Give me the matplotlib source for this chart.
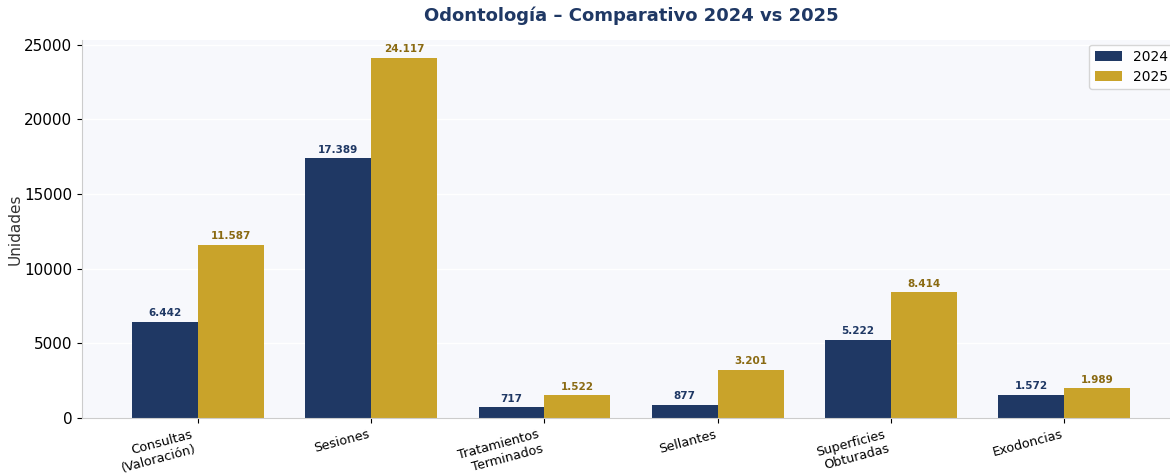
import matplotlib.pyplot as plt
import numpy as np

categorias = ['Consultas\n(Valoración)', 'Sesiones', 'Tratamientos\nTerminados',
              'Sellantes', 'Superficies\nObturadas', 'Exodoncias']
valores_2024 = [6442, 17389, 717, 877, 5222, 1572]
valores_2025 = [11587, 24117, 1522, 3201, 8414, 1989]

azul = '#1f3864'
dorado = '#c9a32a'

fig = plt.figure(figsize=(11.7, 4.75), dpi=100)
ax = fig.add_axes([82 / 1170, 57 / 475, 1098 / 1170, 378 / 475])
ax.set_facecolor('#f7f8fc')

x = np.arange(len(categorias))
w = 0.38
b1 = ax.bar(x - w / 2, valores_2024, w, color=azul, label='2024')
b2 = ax.bar(x + w / 2, valores_2025, w, color=dorado, label='2025')

def fmt(v):
    return f'{v:,}'.replace(',', '.')

for barras, col in [(b1, azul), (b2, '#8a6a12')]:
    for r in barras:
        h = r.get_height()
        ax.text(r.get_x() + r.get_width() / 2, h + 250, fmt(int(h)),
                ha='center', va='bottom', fontsize=7.5, fontweight='bold', color=col)

ax.set_ylim(0, max(valores_2025) * 1.05)
ax.set_xticks(x)
ax.set_xticklabels(categorias, rotation=15, ha='right', fontsize=9.2)
ax.tick_params(axis='y', labelsize=11)
ax.set_ylabel('Unidades', fontsize=11, color='#333333', labelpad=1)
ax.yaxis.grid(True, color='white', linewidth=1)
ax.set_axisbelow(True)
for s in ['top', 'right']:
    ax.spines[s].set_visible(False)
for s in ['left', 'bottom']:
    ax.spines[s].set_color('#cccccc')

ax.legend(loc='upper right', fontsize=10, bbox_to_anchor=(0.9945, 0.988),
          borderaxespad=0, handlelength=2.0, labelspacing=0.4)
ax.set_title('Odontología – Comparativo 2024 vs 2025', fontsize=13, fontweight='bold',
             color=azul, pad=14)

fig.savefig('out.png', dpi=100)
